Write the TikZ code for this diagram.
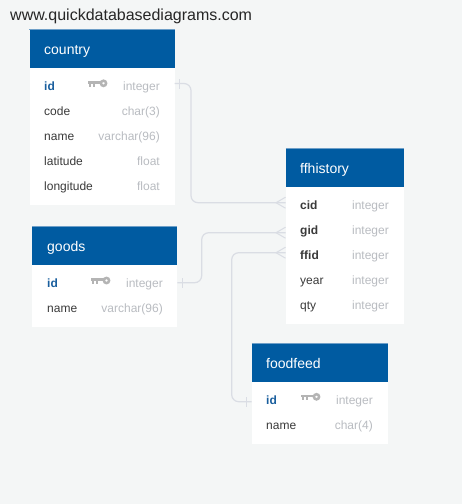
\documentclass[tikz,border=0pt]{standalone}
\usepackage{fontspec}
\setmainfont{Liberation Sans}
\definecolor{bgc}{HTML}{F4F6F6}
\definecolor{headc}{HTML}{005BA1}
\definecolor{headtop}{HTML}{6E9FC8}
\definecolor{pkc}{HTML}{1A5F9E}
\definecolor{txtc}{HTML}{3A3A3A}
\definecolor{typec}{HTML}{B9BCC1}
\definecolor{linec}{HTML}{DADDE4}
\definecolor{keyc}{HTML}{B4B4B4}
\tikzset{
  x=1pt,y=-1pt,
  head/.style={fill=headc,draw=none,inner sep=0pt,anchor=north west},
  bodybox/.style={fill=white,draw=none,inner sep=0pt,anchor=north west},
  rowbox/.style={inner sep=0pt,minimum height=25pt,anchor=west},
  tname/.style={text=white,font=\fontsize{14}{14}\selectfont,anchor=base west,inner sep=0pt},
  fname/.style={text=txtc,font=\fontsize{12}{12}\selectfont,anchor=base west,inner sep=0pt},
  fbold/.style={fname,font=\fontsize{12}{12}\selectfont\bfseries},
  fpk/.style={fbold,text=pkc},
  ftype/.style={text=typec,font=\fontsize{12}{12}\selectfont,anchor=base east,inner sep=0pt},
  rel/.style={draw=linec,line width=1.2pt,rounded corners=7pt},
  mark1/.style={draw=linec,line width=1pt},
  crow/.style={draw=linec,line width=1pt},
}
\newcommand{\keyicon}[2]{%
  \draw[keyc,line width=2.5pt] (#1+5.5,#2) circle (2.6);
  \draw[keyc,line width=2.6pt] (#1-10,#2-1) -- (#1+3,#2-1);
  \draw[keyc,line width=2pt] (#1-8,#2-1) -- (#1-8,#2+3.5) (#1-4,#2-1) -- (#1-4,#2+3.5);
}
\begin{document}
\begin{tikzpicture}
\useasboundingbox[fill=bgc] (0,0) rectangle (462,504);
\node[anchor=base west,inner sep=0pt,text=black!85,font=\fontsize{16}{16}\selectfont] (site) at (10,20) {www.quickdatabasediagrams.com};

% country
\node[bodybox,minimum width=145pt,minimum height=137pt] (countrybody) at (29.3,68) {};
\node[head,minimum width=145pt,minimum height=39pt] (countryhead) at (29.3,29) {};
\draw[headtop,line width=.7pt] (countryhead.north west) -- (countryhead.north east);
\node[tname] (countrytitle) at (44,54) {country};
\node[rowbox,minimum width=145pt] (countryid) at (29.3,83.5) {};
\node[fpk] (c1) at (44,90) {id};
\node[ftype] (c1t) at (160,90) {integer};
\keyicon{98}{83.3}
\node[fname] (c2) at (44,115) {code};
\node[ftype] (c2t) at (160,115) {char(3)};
\node[fname] (c3) at (44,140) {name};
\node[ftype] (c3t) at (160,140) {varchar(96)};
\node[fname] (c4) at (44,165) {latitude};
\node[ftype] (c4t) at (160,165) {float};
\node[fname] (c5) at (44,190) {longitude};
\node[ftype] (c5t) at (160,190) {float};

% goods
\node[bodybox,minimum width=145pt,minimum height=62pt] (goodsbody) at (32,265) {};
\node[head,minimum width=145pt,minimum height=39pt] (goodshead) at (32,226) {};
\draw[headtop,line width=.7pt] (goodshead.north west) -- (goodshead.north east);
\node[tname] (goodstitle) at (47,251) {goods};
\node[rowbox,minimum width=145pt] (goodsid) at (32,282.7) {};
\node[fpk] (g1) at (47,287) {id};
\node[ftype] (g1t) at (163,287) {integer};
\keyicon{101}{280.5}
\node[fname] (g2) at (47,312) {name};
\node[ftype] (g2t) at (163,312) {varchar(96)};

% ffhistory
\node[bodybox,minimum width=118pt,minimum height=137pt] (ffbody) at (285.5,187) {};
\node[head,minimum width=118pt,minimum height=39pt] (ffhead) at (285.5,148) {};
\draw[headtop,line width=.7pt] (ffhead.north west) -- (ffhead.north east);
\node[tname] (fftitle) at (300,173) {ffhistory};
\node[rowbox,minimum width=118pt] (ffcid) at (285.5,202.7) {};
\node[rowbox,minimum width=118pt] (ffgid) at (285.5,232.7) {};
\node[rowbox,minimum width=118pt] (ffffid) at (285.5,252.7) {};
\node[fbold] (f1) at (300,209) {cid};
\node[ftype] (f1t) at (389,209) {integer};
\node[fbold] (f2) at (300,234) {gid};
\node[ftype] (f2t) at (389,234) {integer};
\node[fbold] (f3) at (300,259) {ffid};
\node[ftype] (f3t) at (389,259) {integer};
\node[fname] (f4) at (300,284) {year};
\node[ftype] (f4t) at (389,284) {integer};
\node[fname] (f5) at (300,309) {qty};
\node[ftype] (f5t) at (389,309) {integer};

% foodfeed
\node[bodybox,minimum width=136pt,minimum height=62pt] (foodbody) at (251.5,382) {};
\node[head,minimum width=136pt,minimum height=39pt] (foodhead) at (251.5,343) {};
\draw[headtop,line width=.7pt] (foodhead.north west) -- (foodhead.north east);
\node[tname] (foodtitle) at (266,368) {foodfeed};
\node[rowbox,minimum width=136pt] (foodid) at (251.5,401.7) {};
\node[fpk] (o1) at (266,404) {id};
\node[ftype] (o1t) at (373,404) {integer};
\keyicon{311}{396.8}
\node[fname] (o2) at (266,429) {name};
\node[ftype] (o2t) at (373,429) {char(4)};

% connectors
\draw[rel] (countryid.east) -| ([xshift=191pt]0,202.7) -- (ffcid.west);
\draw[rel] (goodsid.east) -| ([xshift=201.7pt]0,232.7) -- (ffgid.west);
\draw[rel] (foodid.west) -| ([xshift=231.7pt]0,252.7) -- (ffffid.west);

% one-side marks
\draw[mark1] ([xshift=4.5pt,yshift=-5pt]countryid.east) -- ([xshift=4.5pt,yshift=5pt]countryid.east);
\draw[mark1] ([xshift=5pt,yshift=-5pt]goodsid.east) -- ([xshift=5pt,yshift=5pt]goodsid.east);
\draw[mark1] ([xshift=-5.5pt,yshift=-5pt]foodid.west) -- ([xshift=-5.5pt,yshift=5pt]foodid.west);

% many-side marks
\foreach \n in {ffcid,ffgid,ffffid}{
  \draw[crow] ([yshift=5.5pt]\n.west) -- ([xshift=-9.5pt]\n.west) -- ([yshift=-5.5pt]\n.west);
}
\end{tikzpicture}
\end{document}
